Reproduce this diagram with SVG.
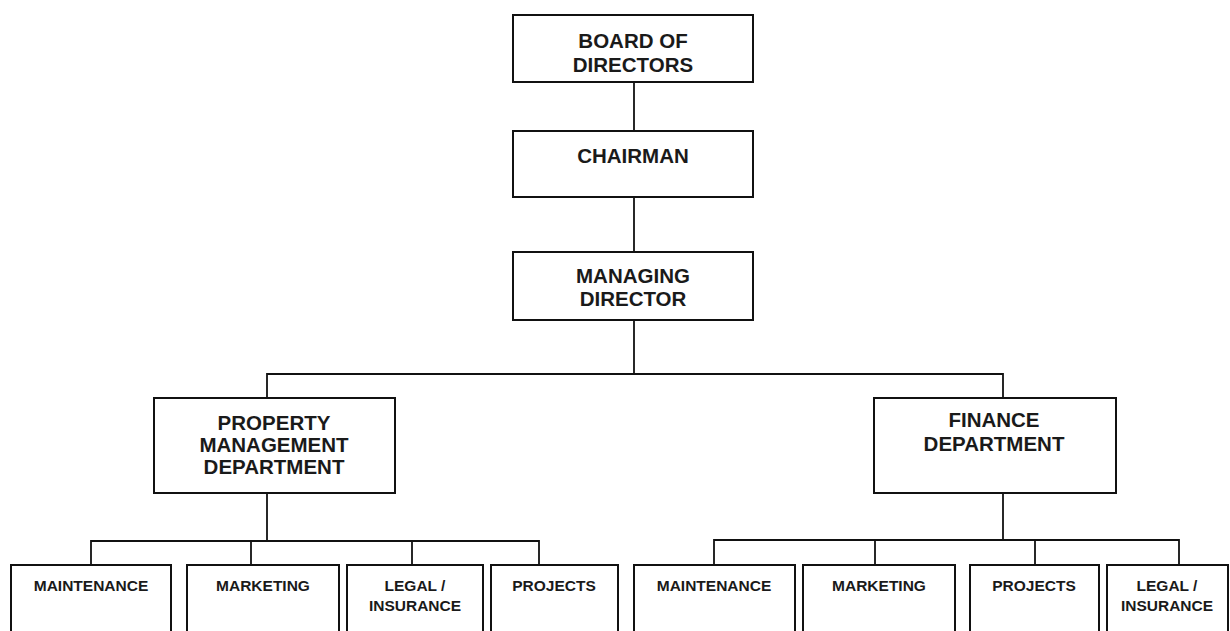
<svg xmlns="http://www.w3.org/2000/svg" width="1230" height="631" viewBox="0 0 1230 631">
  <style>
    .box { fill: #fff; stroke: #111; stroke-width: 2; }
    .wire { fill: none; stroke: #111; stroke-width: 1.8; }
    .t { font-family: "Liberation Sans", Arial, sans-serif; font-weight: bold; fill: #1a1a1a; text-anchor: middle; }
    .big { font-size: 20.5px; }
    .small { font-size: 15.5px; }
  </style>
  <rect width="1230" height="631" fill="#fff"/>

  <!-- connectors -->
  <g id="connectors" class="wire">
    <path d="M634 82 V131"/>
    <path d="M634 197 V252"/>
    <path d="M634 320 V374"/>
    <path d="M267 398 V374 H1003 V398"/>
    <path d="M267 493 V541"/>
    <path d="M91 565 V541 H539 V565"/>
    <path d="M251 541 V565"/>
    <path d="M412 541 V565"/>
    <path d="M1003 493 V540"/>
    <path d="M714 565 V540 H1179 V565"/>
    <path d="M875 540 V565"/>
    <path d="M1035 540 V565"/>
  </g>

  <g id="board">
    <rect class="box" x="513" y="15" width="240" height="67"/>
    <text class="t big" x="633" y="48">BOARD OF</text>
    <text class="t big" x="633" y="72">DIRECTORS</text>
  </g>
  <g id="chairman">
    <rect class="box" x="513" y="131" width="240" height="66"/>
    <text class="t big" x="633" y="163">CHAIRMAN</text>
  </g>
  <g id="managing-director">
    <rect class="box" x="513" y="252" width="240" height="68"/>
    <text class="t big" x="633" y="283">MANAGING</text>
    <text class="t big" x="633" y="306">DIRECTOR</text>
  </g>
  <g id="property-management">
    <rect class="box" x="154" y="398" width="241" height="95"/>
    <text class="t big" x="274" y="430">PROPERTY</text>
    <text class="t big" x="274" y="452">MANAGEMENT</text>
    <text class="t big" x="274" y="474">DEPARTMENT</text>
  </g>
  <g id="finance">
    <rect class="box" x="874" y="398" width="242" height="95"/>
    <text class="t big" x="994" y="427">FINANCE</text>
    <text class="t big" x="994" y="451">DEPARTMENT</text>
  </g>

  <!-- property management sections -->
  <g id="pm-maintenance">
    <rect class="box" x="11" y="565" width="160" height="80"/>
    <text class="t small" x="91" y="591">MAINTENANCE</text>
  </g>
  <g id="pm-marketing">
    <rect class="box" x="187" y="565" width="152" height="80"/>
    <text class="t small" x="263" y="591">MARKETING</text>
  </g>
  <g id="pm-legal">
    <rect class="box" x="347" y="565" width="136" height="80"/>
    <text class="t small" x="415" y="591">LEGAL /</text>
    <text class="t small" x="415" y="611">INSURANCE</text>
  </g>
  <g id="pm-projects">
    <rect class="box" x="491" y="565" width="127" height="80"/>
    <text class="t small" x="554" y="591">PROJECTS</text>
  </g>

  <!-- finance sections -->
  <g id="fin-maintenance">
    <rect class="box" x="634" y="565" width="161" height="80"/>
    <text class="t small" x="714" y="591">MAINTENANCE</text>
  </g>
  <g id="fin-marketing">
    <rect class="box" x="803" y="565" width="152" height="80"/>
    <text class="t small" x="879" y="591">MARKETING</text>
  </g>
  <g id="fin-projects">
    <rect class="box" x="970" y="565" width="129" height="80"/>
    <text class="t small" x="1034" y="591">PROJECTS</text>
  </g>
  <g id="fin-legal">
    <rect class="box" x="1107" y="565" width="121" height="80"/>
    <text class="t small" x="1167" y="591">LEGAL /</text>
    <text class="t small" x="1167" y="611">INSURANCE</text>
  </g>
</svg>
